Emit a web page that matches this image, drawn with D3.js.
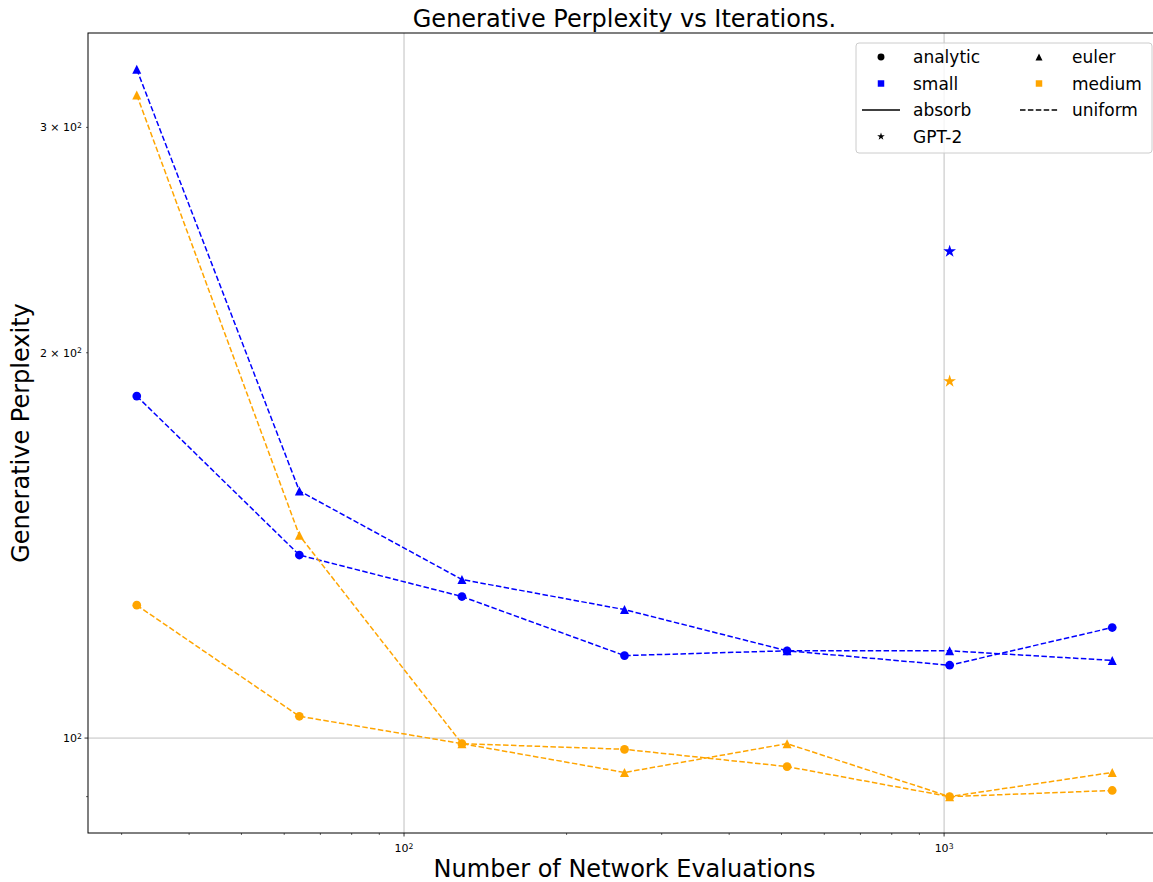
<!DOCTYPE html>
<html>
<head>
<meta charset="utf-8">
<script src="https://cdn.jsdelivr.net/npm/d3@7"></script>
<style>
  body { margin: 0; background: #fff; }
  svg { font-family: "DejaVu Sans", sans-serif; }
</style>
</head>
<body>
<div id="chart"></div>
<script>

// number of network evaluations (x values)
var nfe = [32, 64, 128, 256, 512, 1024, 2048];

// generative perplexity per series
var smallAnalytic = [185, 139, 129, 116, 117, 114, 122];
var smallEuler = [333, 156, 133, 126, 117, 117, 115];
var mediumAnalytic = [127, 104, 99, 98, 95, 90, 91];
var mediumEuler = [318, 144, 99, 94, 99, 90, 94];

// GPT-2 reference points
var gptNfe = [1024, 1024];
var gptValues = [240, 190];
var gptSizes = ["small", "medium"];

// tick values and labels ("^" marks the exponent)
var xMajorTicks = [100, 1000];
var xMajorLabels = ["10^2", "10^3"];
var xMinorTicks = [30, 40, 50, 60, 70, 80, 90, 200, 300, 400, 500, 600, 700, 800, 900, 2000];
var yMajorTicks = [100];
var yMajorLabels = ["10^2"];
var yMinorTicks = [90, 200, 300];
var yMinorLabels = ["", "2 \u00d7 10^2", "3 \u00d7 10^2"];

// legend entries
var legendCol1 = ["analytic", "small", "absorb", "GPT-2"];
var legendCol2 = ["euler", "medium", "uniform"];

// colours per model size
var colors = {small: "#0000ff", medium: "#ffa500"};

// set margins
var margin = {top: 33, left: 88},
    svgWidth = 1153,
    svgHeight = 882,
    width = 1073,
    height = 800;

// matplotlib style 5% padding in log space
function logPad(values) {
  var lo = Math.log10(d3.min(values));
  var hi = Math.log10(d3.max(values));
  var m = 0.05 * (hi - lo);
  return [Math.pow(10, lo - m), Math.pow(10, hi + m)];
}

var allY = smallAnalytic.concat(smallEuler, mediumAnalytic, mediumEuler, gptValues);

var x = d3.scaleLog().domain(logPad(nfe)).range([0, width]);
var y = d3.scaleLog().domain(logPad(allY)).range([height, 0]);

// triangle like matplotlib '^' (centred on its box)
var triangle = {
  draw: function(context, size) {
    var r = Math.sqrt(size) / 2;
    context.moveTo(0, -r);
    context.lineTo(r, r);
    context.lineTo(-r, r);
    context.closePath();
  }
};

var svg = d3.select("#chart").append("svg")
    .attr("width", svgWidth)
    .attr("height", svgHeight);

var g = svg.append("g")
    .attr("transform", "translate(" + margin.left + "," + margin.top + ")");

// write a label with a superscript exponent
function writeLabel(sel, label) {
  var parts = label.split("^");
  sel.append("tspan").text(parts[0]);
  if (parts.length > 1) {
    sel.append("tspan")
      .attr("dy", "-0.45em")
      .style("font-size", "70%")
      .text(parts[1]);
  }
}

// grid lines on major ticks
g.selectAll(".xgrid")
  .data(xMajorTicks)
  .enter().append("line")
  .attr("x1", function(d) { return x(d); })
  .attr("x2", function(d) { return x(d); })
  .attr("y1", 0).attr("y2", height)
  .attr("stroke", "#b0b0b0").attr("stroke-width", 0.8);

g.selectAll(".ygrid")
  .data(yMajorTicks)
  .enter().append("line")
  .attr("x1", 0).attr("x2", width)
  .attr("y1", function(d) { return y(d); })
  .attr("y2", function(d) { return y(d); })
  .attr("stroke", "#b0b0b0").attr("stroke-width", 0.8);

// series lines and markers
var series = [
  {size: "small", symbol: d3.symbolCircle, values: smallAnalytic},
  {size: "small", symbol: triangle, values: smallEuler},
  {size: "medium", symbol: d3.symbolCircle, values: mediumAnalytic},
  {size: "medium", symbol: triangle, values: mediumEuler}
];

var line = d3.line()
  .x(function(d) { return x(d[0]); })
  .y(function(d) { return y(d[1]); });

series.forEach(function(s) {
  var pts = nfe.map(function(n, i) { return [n, s.values[i]]; });

  g.append("path")
    .datum(pts)
    .attr("d", line)
    .attr("fill", "none")
    .attr("stroke", colors[s.size])
    .attr("stroke-width", 1.5)
    .attr("stroke-dasharray", "5.5,2.4");

  g.selectAll(null)
    .data(pts)
    .enter().append("path")
    .attr("transform", function(d) { return "translate(" + x(d[0]) + "," + y(d[1]) + ")"; })
    .attr("d", d3.symbol().type(s.symbol).size(s.symbol === triangle ? 81 : 60))
    .attr("fill", colors[s.size]);
});

// GPT-2 stars
g.selectAll(".gpt")
  .data(gptValues)
  .enter().append("path")
  .attr("transform", function(d, i) { return "translate(" + x(gptNfe[i]) + "," + y(d) + ")"; })
  .attr("d", d3.symbol().type(d3.symbolStar).size(50))
  .attr("fill", function(d, i) { return colors[gptSizes[i]]; });

// x ticks
g.selectAll(".xmajor")
  .data(xMajorTicks)
  .enter().append("line")
  .attr("x1", function(d) { return x(d); })
  .attr("x2", function(d) { return x(d); })
  .attr("y1", height).attr("y2", height + 3.5)
  .attr("stroke", "#000").attr("stroke-width", 0.8);

g.selectAll(".xminor")
  .data(xMinorTicks)
  .enter().append("line")
  .attr("x1", function(d) { return x(d); })
  .attr("x2", function(d) { return x(d); })
  .attr("y1", height).attr("y2", height + 2)
  .attr("stroke", "#000").attr("stroke-width", 0.6);

g.selectAll(".xlabel")
  .data(xMajorTicks)
  .enter().append("text")
  .attr("x", function(d) { return x(d); })
  .attr("y", height + 19)
  .attr("text-anchor", "middle")
  .style("font-size", "11px")
  .each(function(d, i) { writeLabel(d3.select(this), xMajorLabels[i]); });

// y ticks
g.selectAll(".ymajor")
  .data(yMajorTicks)
  .enter().append("line")
  .attr("x1", -3.5).attr("x2", 0)
  .attr("y1", function(d) { return y(d); })
  .attr("y2", function(d) { return y(d); })
  .attr("stroke", "#000").attr("stroke-width", 0.8);

g.selectAll(".yminor")
  .data(yMinorTicks)
  .enter().append("line")
  .attr("x1", -2).attr("x2", 0)
  .attr("y1", function(d) { return y(d); })
  .attr("y2", function(d) { return y(d); })
  .attr("stroke", "#000").attr("stroke-width", 0.6);

var yLabelData = yMajorTicks.map(function(d, i) { return [d, yMajorLabels[i]]; })
  .concat(yMinorTicks.map(function(d, i) { return [d, yMinorLabels[i]]; }))
  .filter(function(d) { return d[1] !== ""; });

g.selectAll(".ylabel")
  .data(yLabelData)
  .enter().append("text")
  .attr("x", -6)
  .attr("y", function(d) { return y(d[0]) + 4; })
  .attr("text-anchor", "end")
  .style("font-size", "11px")
  .each(function(d) { writeLabel(d3.select(this), d[1]); });

// spines
g.append("rect")
  .attr("width", width).attr("height", height)
  .attr("fill", "none")
  .attr("stroke", "#000").attr("stroke-width", 1);

// title and axis labels
svg.append("text")
  .attr("x", margin.left + width / 2)
  .attr("y", 27)
  .attr("text-anchor", "middle")
  .style("font-size", "24px")
  .text("Generative Perplexity vs Iterations.");

svg.append("text")
  .attr("x", margin.left + width / 2)
  .attr("y", 877)
  .attr("text-anchor", "middle")
  .style("font-size", "24px")
  .text("Number of Network Evaluations");

svg.append("text")
  .attr("transform", "translate(29," + (margin.top + height / 2) + ") rotate(-90)")
  .attr("text-anchor", "middle")
  .style("font-size", "24px")
  .text("Generative Perplexity");

// legend
var legend = svg.append("g").attr("transform", "translate(856,43)");

legend.append("rect")
  .attr("width", 296).attr("height", 110)
  .attr("rx", 3)
  .attr("fill", "#fff").attr("fill-opacity", 0.8)
  .attr("stroke", "#cccccc").attr("stroke-width", 1);

var rowY = [14, 40.5, 67, 93.5];

function legendHandle(sel, name, cx) {
  if (name === "analytic") {
    sel.append("path").attr("transform", "translate(" + cx + ",0)")
      .attr("d", d3.symbol().type(d3.symbolCircle).size(38)).attr("fill", "#000");
  } else if (name === "euler") {
    sel.append("path").attr("transform", "translate(" + cx + ",0)")
      .attr("d", d3.symbol().type(triangle).size(49)).attr("fill", "#000");
  } else if (name === "small" || name === "medium") {
    sel.append("path").attr("transform", "translate(" + cx + ",0)")
      .attr("d", d3.symbol().type(d3.symbolSquare).size(42)).attr("fill", colors[name]);
  } else if (name === "GPT-2") {
    sel.append("path").attr("transform", "translate(" + cx + ",0)")
      .attr("d", d3.symbol().type(d3.symbolStar).size(18)).attr("fill", "#000");
  } else {
    sel.append("line")
      .attr("x1", cx - 19).attr("x2", cx + 19)
      .attr("stroke", "#000").attr("stroke-width", 1.5)
      .attr("stroke-dasharray", name === "uniform" ? "5.5,2.4" : null);
  }
}

[[legendCol1, 25, 57], [legendCol2, 183, 216]].forEach(function(col) {
  col[0].forEach(function(name, i) {
    var row = legend.append("g").attr("transform", "translate(0," + rowY[i] + ")");
    legendHandle(row, name, col[1]);
    row.append("text")
      .attr("x", col[2])
      .attr("y", 6)
      .style("font-size", "17px")
      .text(name);
  });
});

</script>
</body>
</html>
